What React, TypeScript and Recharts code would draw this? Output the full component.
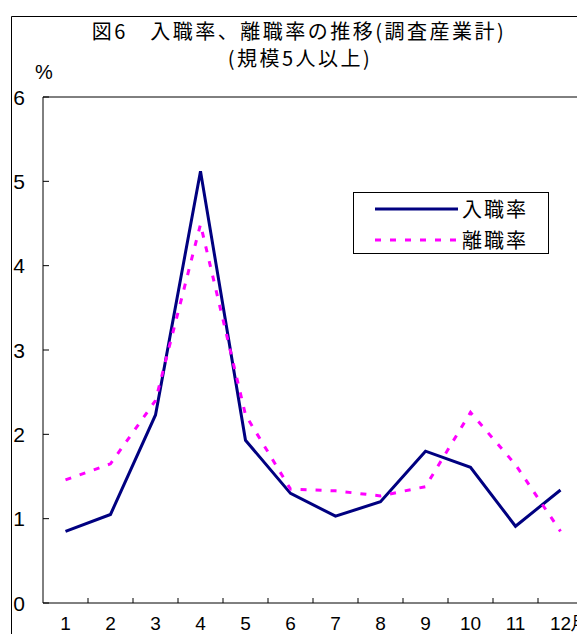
import React from "react"
import { Legend, Line, LineChart, ReferenceLine, XAxis, YAxis } from "recharts"

// 月別 入職率・離職率（調査産業計、規模5人以上）, %
const months = ["1", "2", "3", "4", "5", "6", "7", "8", "9", "10", "11", "12"]
const hireRate = [0.85, 1.05, 2.23, 5.12, 1.93, 1.3, 1.03, 1.2, 1.8, 1.61, 0.91, 1.34]
const separationRate = [1.46, 1.65, 2.4, 4.49, 2.23, 1.35, 1.33, 1.27, 1.38, 2.26, 1.64, 0.85]
const yTicks = [0, 1, 2, 3, 4, 5, 6]

const data = months.map((m, i) => ({
  month: m,
  hire: hireRate[i],
  separation: separationRate[i],
}))

const CHART_W = 600
const CHART_H = 634
const Y_W = 43
const MARGIN = { top: 97, right: 17, bottom: 0, left: 0 }
const X_H = 31
const BAND = (CHART_W - Y_W - MARGIN.right) / months.length

const NUM_FONT = "'Liberation Sans', Arial, sans-serif"
const JP_FONT = "'Noto Sans CJK JP', sans-serif"

const series = [
  { key: "hire", name: "入職率", color: "#000080", dash: undefined },
  { key: "separation", name: "離職率", color: "#ff00ff", dash: "6 9" },
]

const YTick = (props: any) => {
  const { x, y, payload } = props
  return (
    <g>
      <line x1={x} x2={x + 6} y1={y} y2={y} stroke="#000" />
      <text x={x - 24} y={y} dy={7.5} textAnchor="middle" fontSize={21} fontFamily={NUM_FONT} fill="#000">
        {payload.value}
      </text>
    </g>
  )
}

const XTick = (props: any) => {
  const { x, y, payload, index } = props
  const last = index === months.length - 1
  return (
    <g>
      <line x1={x + BAND / 2} x2={x + BAND / 2} y1={y} y2={y - 5} stroke="#000" />
      <text x={x} y={y + 27} textAnchor="middle" fontSize={19} fontFamily={NUM_FONT} fill="#000">
        {payload.value}
      </text>
      {last && (
        <text x={x + 10} y={y + 27} fontSize={18} fontFamily={JP_FONT} fill="#000">
          月
        </text>
      )}
    </g>
  )
}

const LegendBox = () => (
  <div
    style={{
      width: 196,
      height: 62,
      boxSizing: "border-box",
      border: "1px solid #000",
      background: "#fff",
      position: "relative",
    }}
  >
    {series.map((s, i) => (
      <div key={s.key} style={{ position: "absolute", left: 0, top: 3 + i * 31, height: 28, width: 196 }}>
        <svg width={110} height={28} style={{ position: "absolute", left: 0, top: 0 }}>
          <line x1={21} x2={104} y1={13} y2={13} stroke={s.color} strokeWidth={3} strokeDasharray={s.dash} />
        </svg>
        <span
          style={{
            position: "absolute",
            left: 108,
            top: 0,
            fontFamily: JP_FONT,
            fontSize: 20,
            letterSpacing: 2,
            lineHeight: "26px",
            color: "#000",
          }}
        >
          {s.name}
        </span>
      </div>
    ))}
  </div>
)

export default function App() {
  return (
    <div style={{ position: "absolute", left: 0, top: 0, width: 577, height: 634, overflow: "hidden", background: "#fff" }}>
      <LineChart width={CHART_W} height={CHART_H} data={data} margin={MARGIN}>
        <XAxis
          dataKey="month"
          height={X_H}
          stroke="#000"
          padding={{ left: BAND / 2, right: BAND / 2 }}
          tickLine={false}
          tickSize={0}
          tickMargin={0}
          interval={0}
          tick={<XTick />}
        />
        <YAxis
          width={Y_W}
          domain={[0, 6]}
          ticks={yTicks}
          stroke="#000"
          tickLine={false}
          tickSize={0}
          tickMargin={0}
          tick={<YTick />}
        />
        <ReferenceLine y={6} stroke="#000" />
        {series.map((s) => (
          <Line
            key={s.key}
            type="linear"
            dataKey={s.key}
            name={s.name}
            stroke={s.color}
            strokeWidth={3}
            strokeDasharray={s.dash}
            dot={false}
            activeDot={false}
            isAnimationActive={false}
          />
        ))}
        <Legend
          layout="horizontal"
          verticalAlign="middle"
          align="center"
          content={() => <LegendBox />}
          wrapperStyle={{ left: 353, top: 192, width: 196, height: 62 }}
        />
      </LineChart>
      <svg
        width={577}
        height={634}
        style={{ position: "absolute", left: 0, top: 0, pointerEvents: "none" }}
      >
        <line x1={11.5} x2={11.5} y1={16.5} y2={634} stroke="#000" />
        <line x1={11.5} x2={577} y1={16.5} y2={16.5} stroke="#000" />
        <text x={299} y={39} textAnchor="middle" fontSize={20} letterSpacing={2.5} fontFamily={JP_FONT} fill="#000">
          図6　入職率、離職率の推移(調査産業計)
        </text>
        <text x={300} y={66} textAnchor="middle" fontSize={20} letterSpacing={2.5} fontFamily={JP_FONT} fill="#000">
          (規模5人以上)
        </text>
        <text x={35} y={79} fontSize={20} fontFamily={NUM_FONT} fill="#000">
          %
        </text>
      </svg>
    </div>
  )
}
